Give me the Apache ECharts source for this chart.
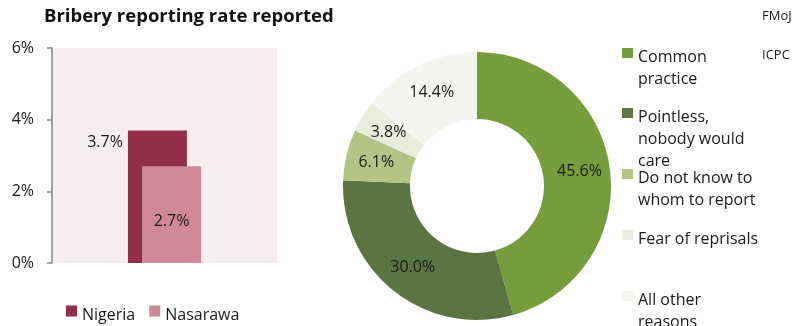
<!DOCTYPE html>
<html>
<head>
<meta charset="utf-8">
<script src="https://cdn.jsdelivr.net/npm/echarts@6/dist/echarts.min.js"></script>
<style>
html,body{margin:0;padding:0;background:#fff;}
#chart{width:795px;height:326px;}
</style>
</head>
<body>
<div id="chart"></div>
<script>
const barCategories = ['Bribery reporting rate'];
const barSeriesNames = ['Nigeria', 'Nasarawa'];
const nigeriaValues = [0.037];
const nasarawaValues = [0.027];
const yTicks = [0, 0.02, 0.04, 0.06];

const pieNames = ['Common practice', 'Pointless, nobody would care', 'Do not know to whom to report', 'Fear of reprisals', 'All other reasons'];
const pieLegendText = ['Common\npractice', 'Pointless,\nnobody would\ncare', 'Do not know to\nwhom to report', 'Fear of reprisals', 'All other\nreasons'];
const pieValues = [45.6, 30.0, 6.1, 3.8, 14.4];
const sideNotes = ['FMoJ', 'ICPC'];

const FONT = 'Open Sans';
const TXT = '#1a1a1a';
const pieColors = ['#769d3b', '#5b7542', '#b3c484', '#e8eddb', '#f4f5ef'];

const chart = echarts.init(document.getElementById('chart'));

const legendTops = [48, 108, 169, 230, 291];
const LH = 22;
const SHIFT = 4;
const pieLegends = pieNames.map((n, i) => {
  const lines = pieLegendText[i].split('\n');
  const spacerH = (lines.length - 1) * LH + 2 * SHIFT;
  const itemH = 10;
  const boxH = spacerH + lines.length * LH;
  const top = legendTops[i] + itemH / 2 - boxH / 2;
  return {
    data: [n],
    orient: 'vertical',
    left: 622,
    top: top,
    padding: 0,
    itemWidth: 11,
    itemHeight: itemH,
    itemGap: 0,
    icon: 'rect',
    selectedMode: false,
    formatter: () => '{sp| }\n' + lines.map(l => '{t|' + l + '}').join('\n'),
    textStyle: {
      fontFamily: FONT, fontSize: 16, color: TXT,
      rich: {
        sp: { height: spacerH, lineHeight: spacerH, fontSize: 1 },
        t: { fontFamily: FONT, fontSize: 16, color: TXT, lineHeight: LH, height: LH }
      }
    }
  };
});

const option = {
  animation: false,
  title: [
    { text: 'Bribery reporting rate reported', left: 44, top: 7, padding: 0, textStyle: { fontFamily: FONT, fontSize: 18.5, fontWeight: 'bold', color: '#111' } },
    { text: sideNotes[0], left: 762, top: 10, padding: 0, textStyle: { fontFamily: FONT, fontSize: 13, fontWeight: 'normal', color: TXT } },
    { text: sideNotes[1], left: 762, top: 49, padding: 0, textStyle: { fontFamily: FONT, fontSize: 13, fontWeight: 'normal', color: TXT } }
  ],
  legend: [
    {
      data: barSeriesNames,
      left: 66,
      top: 297,
      padding: 0,
      itemWidth: 11,
      itemHeight: 11,
      itemGap: 14,
      icon: 'rect',
      selectedMode: false,
      formatter: name => '{sp| }\n{t|' + name + '}',
      textStyle: {
        fontFamily: FONT, fontSize: 16, color: TXT,
        rich: {
          sp: { height: 8, lineHeight: 8, fontSize: 1 },
          t: { fontFamily: FONT, fontSize: 16, color: TXT, lineHeight: 20, height: 20 }
        }
      }
    }
  ].concat(pieLegends),
  grid: { left: 52, right: 518, top: 48, bottom: 63, show: true, backgroundColor: '#f7ecee', borderWidth: 0 },
  xAxis: {
    type: 'category',
    data: barCategories,
    axisLine: { show: false },
    axisTick: { show: false },
    axisLabel: { show: false }
  },
  yAxis: {
    type: 'value',
    min: yTicks[0],
    max: yTicks[yTicks.length - 1],
    interval: 0.02,
    splitLine: { show: false },
    axisLine: { show: true, lineStyle: { color: '#888', width: 1.5 } },
    axisTick: { show: true, length: 5, lineStyle: { color: '#888', width: 1.5 } },
    axisLabel: {
      margin: 18,
      fontFamily: FONT, fontSize: 16, color: TXT,
      formatter: v => Math.round(v * 100) + '%'
    }
  },
  series: [
    {
      name: barSeriesNames[0],
      type: 'bar',
      data: nigeriaValues,
      barWidth: 59,
      barGap: '-76%',
      itemStyle: { color: '#922f48' },
      label: {
        show: true,
        position: [-5, 12],
        align: 'right',
        verticalAlign: 'middle',
        fontFamily: FONT, fontSize: 16, color: TXT,
        formatter: p => (p.value * 100).toFixed(1) + '%'
      }
    },
    {
      name: barSeriesNames[1],
      type: 'bar',
      data: nasarawaValues,
      barWidth: 59,
      barGap: '-76%',
      itemStyle: { color: '#d08898' },
      label: {
        show: true,
        position: ['50%', '57%'],
        align: 'center',
        verticalAlign: 'middle',
        fontFamily: FONT, fontSize: 16, color: TXT,
        formatter: p => (p.value * 100).toFixed(1) + '%'
      }
    },
    {
      name: 'Reasons',
      type: 'pie',
      center: [477, 186],
      radius: [67, 134],
      startAngle: 90,
      clockwise: true,
      avoidLabelOverlap: false,
      data: pieNames.map((n, i) => ({ name: n, value: pieValues[i], itemStyle: { color: pieColors[i] } })),
      itemStyle: { borderWidth: 0 },
      label: {
        show: true,
        position: 'inside',
        fontFamily: FONT, fontSize: 16, color: TXT,
        formatter: p => p.value.toFixed(1) + '%'
      },
      labelLine: { show: false },
      emphasis: { disabled: true }
    }
  ]
};
chart.setOption(option);
</script>
</body>
</html>
